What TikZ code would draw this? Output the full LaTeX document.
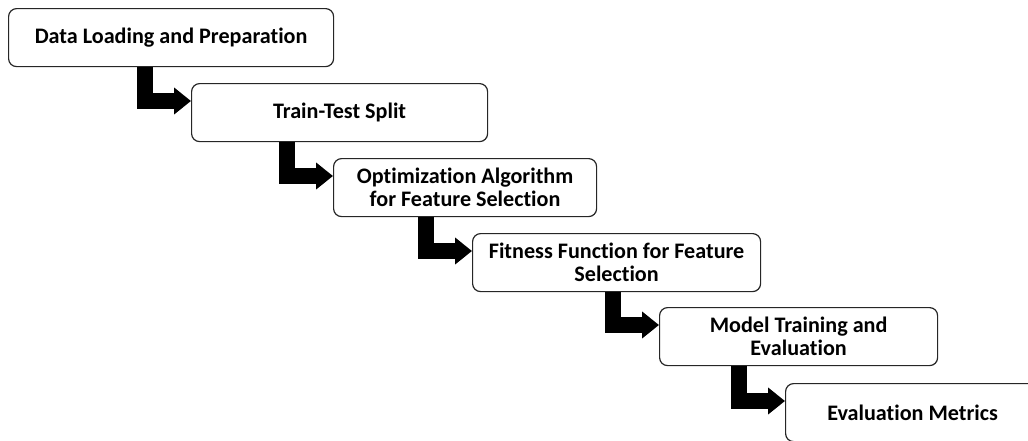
\documentclass[tikz,border=0pt]{standalone}
\usepackage{fontspec}
\setmainfont{Carlito}[Ligatures=NoCommon]
\usetikzlibrary{arrows.meta}
\begin{document}
\begin{tikzpicture}[x=0.75pt,y=-0.75pt,
  stage/.style={draw=black!85, line width=0.9pt, rounded corners=6pt, fill=white,
    inner sep=0pt, align=center, anchor=north west, minimum height=43.5pt,
    font=\bfseries\fontsize{16.6}{17.5}\selectfont},
  flow/.style={draw=black, line width=11.6pt, line join=miter,
    -{Triangle[width=19.5pt,length=12.75pt]}}
]
\useasboundingbox (0,0) rectangle (1028,440);
\clip (0,0) rectangle (1028,440);

% process stages
\node[stage, minimum width=243.75pt] (s1) at (8,8)   {Data Loading and Preparation};
\node[stage, minimum width=222pt]    (s2) at (191,83) {Train-Test Split};
\node[stage, minimum width=197.25pt] (s3) at (333,158) {Optimization Algorithm\\for Feature Selection};
\node[stage, minimum width=216pt]    (s4) at (472,233) {Fitness Function for Feature\\Selection};
\node[stage, minimum width=208.5pt]  (s5) at (659,307) {Model Training and\\Evaluation};
\node[stage, minimum width=190.5pt]  (s6) at (785,383) {Evaluation Metrics};

% bent connectors: down from a stage, then right into the next one
\foreach \a/\b in {s1/s2, s2/s3, s3/s4, s4/s5, s5/s6}{
  \path (\b.north west) ++(-46,0) coordinate (k-\b);
  \path (\b.north west) ++(0,18) coordinate (t-\b);
  \draw[flow] (k-\b |- \a.south) |- (t-\b);
}
\end{tikzpicture}
\end{document}
